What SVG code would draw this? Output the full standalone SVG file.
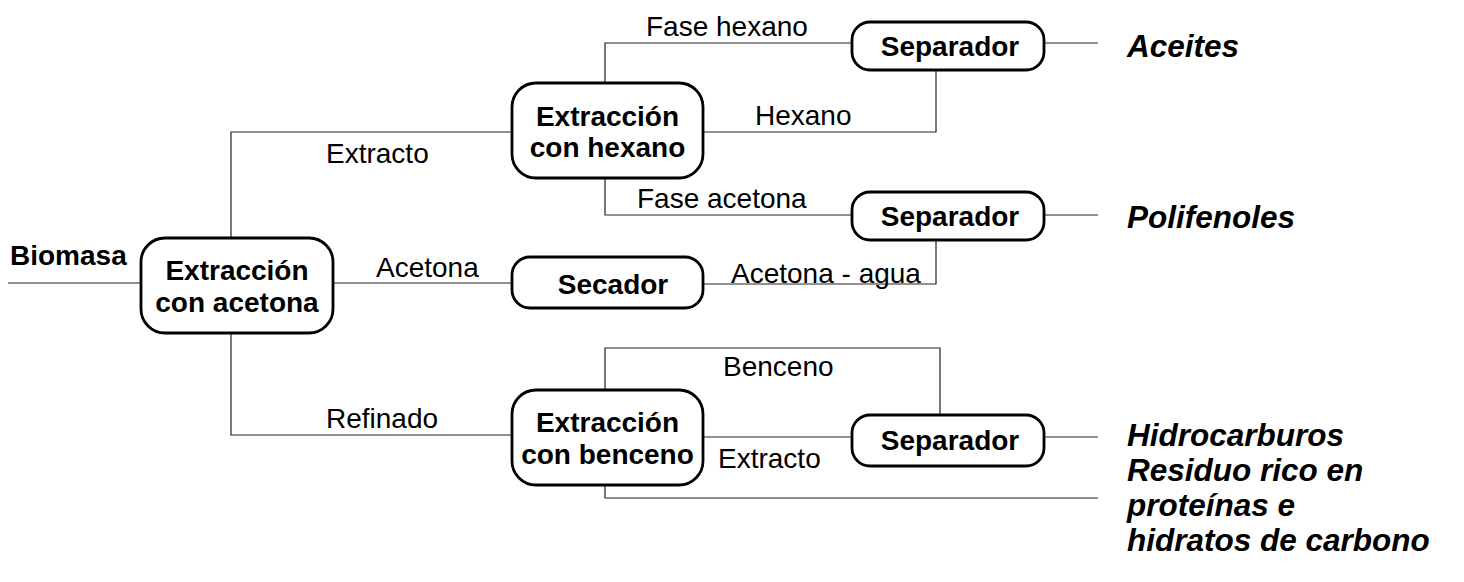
<svg xmlns="http://www.w3.org/2000/svg" width="1464" height="582" viewBox="0 0 1464 582">
<style>
.box{fill:#fff;stroke:#000;stroke-width:2.8}
.nt{font-family:"Liberation Sans",Arial,sans-serif;font-weight:bold;font-size:28px;fill:#000;text-anchor:middle}
.lb{font-family:"Liberation Sans",Arial,sans-serif;font-size:28px;fill:#000}
.out{font-family:"Liberation Sans",Arial,sans-serif;font-weight:bold;font-style:italic;font-size:31.5px;fill:#000}
.con{fill:none;stroke:#222;stroke-width:1.2}
</style>
<rect width="1464" height="582" fill="#fff"/>
<g id="connectors" class="con">
<path d="M8,283H141"/>
<path d="M231,238V132H512"/>
<path d="M231,333V435H512"/>
<path d="M333,283H512"/>
<path d="M703,284H936V240"/>
<path d="M605,83V43H852"/>
<path d="M936,70V132H703"/>
<path d="M605,178V215H852"/>
<path d="M605,390V348H940V415"/>
<path d="M703,437H852"/>
<path d="M605,485V498H1098"/>
<path d="M1044,43H1098"/>
<path d="M1044,215H1098"/>
<path d="M1044,437H1098"/>
</g>
<g id="labels">
<text class="lb" x="646" y="36">Fase hexano</text>
<text class="lb" x="755" y="125">Hexano</text>
<text class="lb" x="326" y="163">Extracto</text>
<text class="lb" x="637" y="208">Fase acetona</text>
<text class="lb" x="376" y="277">Acetona</text>
<text class="lb" x="731" y="283">Acetona - agua</text>
<text class="lb" x="723" y="376">Benceno</text>
<text class="lb" x="326" y="428">Refinado</text>
<text class="lb" x="718" y="468">Extracto</text>
</g>
<g id="biomasa"><text x="10" y="265" font-family="Liberation Sans, Arial, sans-serif" font-weight="bold" font-size="28">Biomasa</text></g>
<g id="ext-acetona">
<rect class="box" x="141" y="238" width="192" height="95" rx="24"/>
<text class="nt" x="237" y="280">Extracción</text>
<text class="nt" x="237" y="312">con acetona</text>
</g>
<g id="ext-hexano">
<rect class="box" x="512" y="83" width="191" height="95" rx="24"/>
<text class="nt" x="607.5" y="126">Extracción</text>
<text class="nt" x="607.5" y="157">con hexano</text>
</g>
<g id="ext-benceno">
<rect class="box" x="512" y="390" width="191" height="95" rx="24"/>
<text class="nt" x="607.5" y="432">Extracción</text>
<text class="nt" x="607.5" y="464">con benceno</text>
</g>
<g id="secador">
<rect class="box" x="512" y="257" width="191" height="51" rx="18"/>
<text class="nt" x="613" y="294">Secador</text>
</g>
<g id="sep1">
<rect class="box" x="852" y="22" width="192" height="48" rx="18"/>
<text class="nt" x="950" y="56">Separador</text>
</g>
<g id="sep2">
<rect class="box" x="852" y="192" width="192" height="48" rx="18"/>
<text class="nt" x="950" y="226">Separador</text>
</g>
<g id="sep3">
<rect class="box" x="852" y="415" width="192" height="51" rx="18"/>
<text class="nt" x="950" y="450">Separador</text>
</g>
<g id="out-aceites"><text class="out" x="1127" y="57">Aceites</text></g>
<g id="out-polifenoles"><text class="out" x="1127" y="228">Polifenoles</text></g>
<g id="out-hidrocarburos"><text class="out" x="1127" y="446">Hidrocarburos</text></g>
<g id="out-residuo">
<text class="out" x="1127" y="481">Residuo rico en</text>
<text class="out" x="1127" y="516">proteínas e</text>
<text class="out" x="1127" y="551">hidratos de carbono</text>
</g>
</svg>
